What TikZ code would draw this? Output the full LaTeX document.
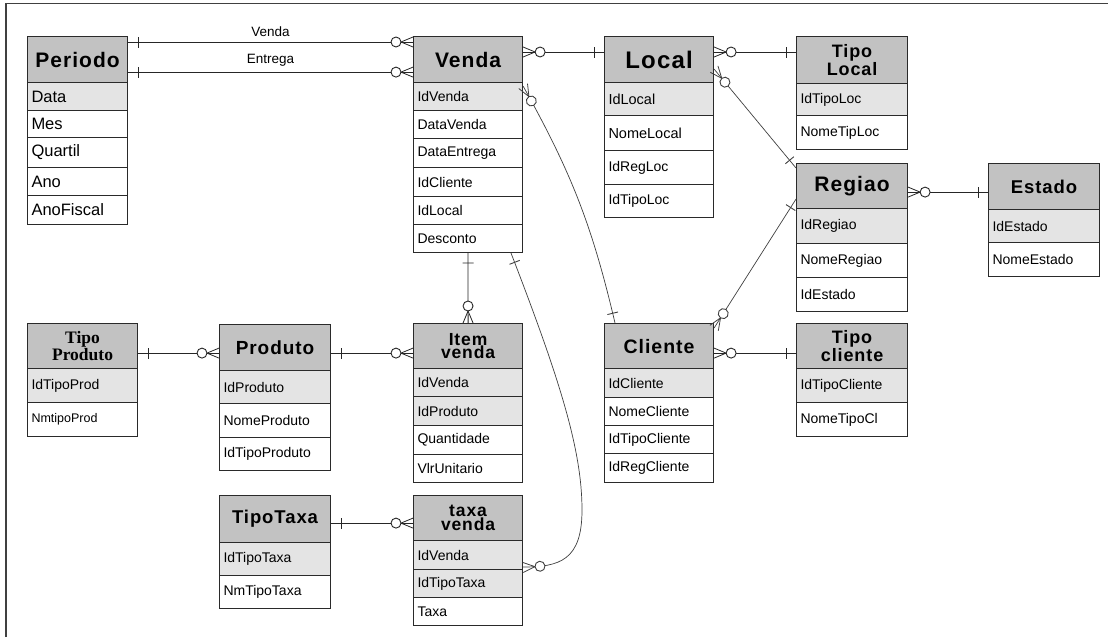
\documentclass[tikz,border=0pt]{standalone}
\usepackage{fontspec}
\setmainfont{Liberation Sans}
\newfontfamily\titleserif{Liberation Serif}
\usetikzlibrary{decorations.markings}

\definecolor{hdrgray}{HTML}{C2C2C2}
\definecolor{keygray}{HTML}{E4E4E4}
\definecolor{edgegray}{HTML}{2A2A2A}

% font size helpers
\newcommand\hsz[2]{\fontsize{#1}{#2}\selectfont}
\newcommand\bigfld{\fontsize{16.5}{18}\selectfont}
\newcommand\smallfld{\fontsize{12.5}{15}\selectfont}

\tikzset{
  hdrbox/.style={draw=edgegray, line width=1.1pt, fill=hdrgray, anchor=north west,
    inner xsep=2pt, inner ysep=0pt, align=center, font=\bfseries\addfontfeature{LetterSpace=5}},
  fldbox/.style={draw=edgegray, line width=1pt, anchor=north west,
    inner xsep=4pt, inner ysep=0pt, align=left, font=\fontsize{14}{16}\selectfont},
  conn/.style={line width=0.9pt, draw=black!85},
  thinconn/.style={line width=0.7pt, draw=black!75},
  lbl/.style={font=\fontsize{13.5}{16}\selectfont, inner sep=2pt},
  % "one" bar near the start / end of a connector
  onestart/.style={postaction={decorate, decoration={markings,
    mark=at position 10pt with {\draw[line width=0.9pt] (0pt,-5.5pt) -- (0pt,5.5pt);}}}},
  oneend/.style={postaction={decorate, decoration={markings,
    mark=at position -10pt with {\draw[line width=0.9pt] (0pt,-5.5pt) -- (0pt,5.5pt);}}}},
  % "zero or many": crow's foot plus open circle
  manystart/.style={postaction={decorate, decoration={markings,
    mark=at position 12pt with {\draw[line width=0.8pt] (0pt,0pt) -- (-12pt,5pt) (0pt,0pt) -- (-12pt,-5pt);},
    mark=at position 17pt with {\draw[line width=0.9pt, fill=white] (0pt,0pt) circle[radius=5pt];}}}},
  manyend/.style={postaction={decorate, decoration={markings,
    mark=at position -17pt with {\draw[line width=0.9pt, fill=white] (0pt,0pt) circle[radius=5pt];},
    mark=at position -12pt with {\draw[line width=0.8pt] (0pt,0pt) -- (12pt,5pt) (0pt,0pt) -- (12pt,-5pt);}}}},
}

% table header: name, x1, y1, x2, y2, text
\newcommand\erhead[6]{%
  \pgfmathsetmacro\erW{#4-#2-4}%
  \pgfmathsetmacro\erH{#5-#3}%
  \node[hdrbox, text width=\erW pt, minimum height=\erH pt] (#1) at (#2,#3) {#6};}
% table field row: name, x1, y1, x2, y2, text, fill
\newcommand\errow[7]{%
  \pgfmathsetmacro\erW{#4-#2-8}%
  \pgfmathsetmacro\erH{#5-#3}%
  \node[fldbox, fill=#7, text width=\erW pt, minimum height=\erH pt] (#1) at (#2,#3) {#6};}

\begin{document}
\begin{tikzpicture}[x=1pt, y=-1pt]
\useasboundingbox (0,0) rectangle (1108,637);
\fill[white] (0,0) rectangle (1108,637);

% frame
\draw[line width=1.6pt, black!75] (6,637) -- (6,3.5) -- (1108,3.5);

% ---- Periodo
\erhead{periodo}{27}{36}{127}{82}{\hsz{21}{24}Periodo}
\errow{periodo1}{27}{82}{127}{110}{\bigfld Data}{keygray}
\errow{periodo2}{27}{110}{127}{137}{\bigfld Mes}{white}
\errow{periodo3}{27}{137}{127}{167}{\bigfld Quartil}{white}
\errow{periodo4}{27}{167}{127}{195}{\bigfld Ano}{white}
\errow{periodo5}{27}{195}{127}{224}{\bigfld AnoFiscal}{white}

% ---- Venda
\erhead{venda}{413}{36}{522}{82}{\hsz{21}{24}Venda}
\errow{venda1}{413}{82}{522}{110}{IdVenda}{keygray}
\errow{venda2}{413}{110}{522}{138}{DataVenda}{white}
\errow{venda3}{413}{138}{522}{167}{DataEntrega}{white}
\errow{venda4}{413}{167}{522}{196}{IdCliente}{white}
\errow{venda5}{413}{196}{522}{224}{IdLocal}{white}
\errow{venda6}{413}{224}{522}{252}{Desconto}{white}

% ---- Local
\erhead{local}{604}{36}{713}{82}{\hsz{24}{26}Local}
\errow{local1}{604}{82}{713}{115}{\hsz{14.5}{16}IdLocal}{keygray}
\errow{local2}{604}{115}{713}{150}{\hsz{14.5}{16}NomeLocal}{white}
\errow{local3}{604}{150}{713}{184}{IdRegLoc}{white}
\errow{local4}{604}{184}{713}{217}{IdTipoLoc}{white}

% ---- Tipo Local
\erhead{tipolocal}{796}{36}{907}{83}{\hsz{18}{24}Tipo\\Local}
\errow{tipolocal1}{796}{83}{907}{115}{IdTipoLoc}{keygray}
\errow{tipolocal2}{796}{115}{907}{149}{NomeTipLoc}{white}

% ---- Regiao
\erhead{regiao}{796}{163}{907}{208}{\hsz{21}{24}Regiao}
\errow{regiao1}{796}{208}{907}{243}{IdRegiao}{keygray}
\errow{regiao2}{796}{243}{907}{277}{NomeRegiao}{white}
\errow{regiao3}{796}{277}{907}{311}{IdEstado}{white}

% ---- Estado
\erhead{estado}{988}{163}{1099}{209}{\hsz{18.5}{22}Estado}
\errow{estado1}{988}{209}{1099}{242}{IdEstado}{keygray}
\errow{estado2}{988}{242}{1099}{276}{NomeEstado}{white}

% ---- Cliente
\erhead{cliente}{604}{323}{713}{368}{\hsz{19.5}{22}Cliente}
\errow{cliente1}{604}{368}{713}{397}{IdCliente}{keygray}
\errow{cliente2}{604}{397}{713}{425}{NomeCliente}{white}
\errow{cliente3}{604}{425}{713}{453}{IdTipoCliente}{white}
\errow{cliente4}{604}{453}{713}{482}{IdRegCliente}{white}

% ---- Tipo cliente
\erhead{tipocliente}{796}{323}{907}{368}{\hsz{18}{24}Tipo\\cliente}
\errow{tipocliente1}{796}{368}{907}{402}{IdTipoCliente}{keygray}
\errow{tipocliente2}{796}{402}{907}{436}{NomeTipoCl}{white}

% ---- Item venda
\erhead{itemvenda}{413}{323}{522}{368}{\hsz{17.5}{25}Item\\venda}
\errow{itemvenda1}{413}{368}{522}{396}{IdVenda}{keygray}
\errow{itemvenda2}{413}{396}{522}{425}{IdProduto}{keygray}
\errow{itemvenda3}{413}{425}{522}{454}{Quantidade}{white}
\errow{itemvenda4}{413}{454}{522}{482}{VlrUnitario}{white}

% ---- Produto
\erhead{produto}{219}{324}{330}{370}{\hsz{19}{22}Produto}
\errow{produto1}{219}{370}{330}{403}{IdProduto}{keygray}
\errow{produto2}{219}{403}{330}{437}{NomeProduto}{white}
\errow{produto3}{219}{437}{330}{470}{IdTipoProduto}{white}

% ---- Tipo Produto
\erhead{tipoprod}{27}{323}{137}{368}{\titleserif\bfseries\hsz{17.5}{22}Tipo\\Produto}
\errow{tipoprod1}{27}{368}{137}{402}{IdTipoProd}{keygray}
\errow{tipoprod2}{27}{402}{137}{436}{\smallfld NmtipoProd}{white}

% ---- TipoTaxa
\erhead{tipotaxa}{219}{495}{330}{542}{\hsz{18.5}{22}TipoTaxa}
\errow{tipotaxa1}{219}{542}{330}{575}{IdTipoTaxa}{keygray}
\errow{tipotaxa2}{219}{575}{330}{608}{NmTipoTaxa}{white}

% ---- taxa venda
\erhead{taxavenda}{413}{495}{522}{540}{\hsz{17.5}{25}taxa\\venda}
\errow{taxavenda1}{413}{540}{522}{569}{IdVenda}{keygray}
\errow{taxavenda2}{413}{569}{522}{597}{IdTipoTaxa}{keygray}
\errow{taxavenda3}{413}{597}{522}{625}{Taxa}{white}

% ================= relationships
\coordinate (pv) at ([yshift=-6pt]periodo.north east);
\coordinate (pe) at ([yshift=11pt]periodo.south east);
\coordinate (vl) at ([yshift=-16pt]venda.north east);
\coordinate (lt) at ([yshift=-16pt]local.north east);
\coordinate (re) at ([yshift=17pt]regiao.south east);
\coordinate (ct) at ([yshift=16pt]cliente.south east);
\coordinate (tpp) at ([yshift=16pt]tipoprod.south east);
\coordinate (pi) at ([yshift=18pt]produto.south east);
\coordinate (tt) at ([yshift=20pt]tipotaxa.south east);

\draw[conn, onestart, manyend] (pv) -- node[lbl, above=3pt] {Venda} (pv -| venda.west);
\draw[conn, onestart, manyend] (pe) -- node[lbl, above=3pt] {Entrega} (pe -| venda.west);
\draw[conn, manystart, oneend] (vl) -- (vl -| local.west);
\draw[conn, manystart, oneend] (lt) -- (lt -| tipolocal.west);
\draw[conn, manystart, oneend] (re) -- (re -| estado.west);
\draw[conn, manystart, oneend] (ct) -- (ct -| tipocliente.west);
\draw[conn, onestart, manyend] (tpp) -- (tpp -| produto.west);
\draw[conn, onestart, manyend] (pi) -- (pi -| itemvenda.west);
\draw[conn, onestart, manyend] (tt) -- (tt -| taxavenda.west);
\draw[conn, onestart, manyend] (venda6.south) -- (itemvenda.north);

\draw[thinconn, manystart, oneend] ([yshift=14pt]local.south east) -- ([yshift=-5pt]regiao.north west);
\draw[thinconn, manystart, oneend] ([yshift=-5pt]cliente.north east) -- ([yshift=10pt]regiao.south west);
\draw[thinconn, manystart, oneend] ([yshift=-3pt]venda.south east) to[bend left=8] ([xshift=11pt]cliente.north west);
\draw[thinconn, onestart, manyend] ([xshift=-12pt]venda6.south east)
   .. controls (560,380) and (582,450) .. (582,510)
   .. controls (582,560) and (560,567) .. ([yshift=3pt]taxavenda1.south east);
\end{tikzpicture}
\end{document}
